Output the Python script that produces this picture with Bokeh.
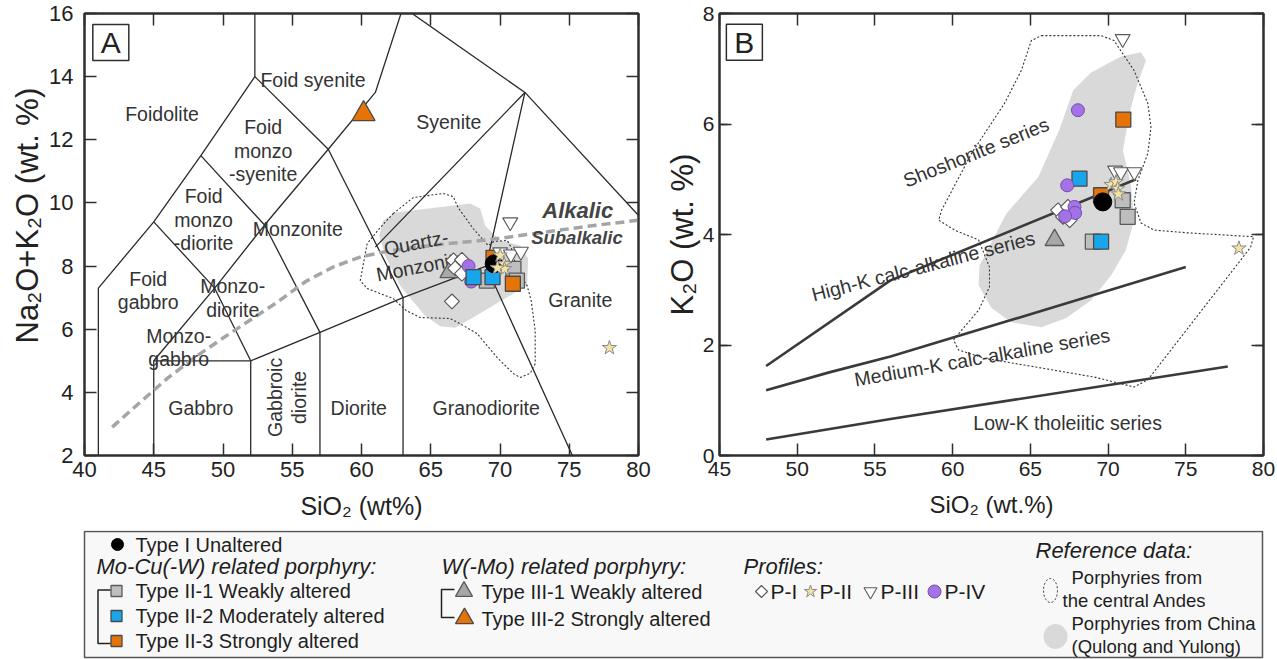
import numpy as np
from bokeh.plotting import figure
from bokeh.models import (Range1d, LinearAxis, SingleIntervalTicker,
                          CustomJSTickFormatter, Title)
from bokeh.layouts import column, row
from bokeh.embed import file_html
from bokeh.resources import INLINE
from bokeh.core.properties import value

FONT = "Liberation Sans"
INK = "#2e2e2e"
TXT = "#333333"

# ---------------------------------------------------------------------------
# Panel A: total alkali vs. silica (plutonic TAS, Middlemost 1994)
# ---------------------------------------------------------------------------
tas_vertices = {
    "F0": (41.0, 0.0), "F1": (41.0, 7.3), "F2": (45.0, 9.4), "F3": (48.4, 11.5),
    "F4": (52.3, 14.0), "F5": (52.3, 17.0),
    "G0": (45.0, 0.0), "G1": (45.0, 5.0), "G2": (52.0, 0.0), "G3": (52.0, 5.0),
    "M1": (49.4, 7.3), "M2": (53.0, 9.3), "M3": (57.6, 11.7),
    "D0": (57.0, 0.0), "D1": (57.0, 5.9),
    "Q0": (63.0, 0.0), "Q1": (63.0, 7.0), "Q2": (69.0, 8.0), "Q3": (61.0, 8.6),
    "S1": (61.0, 13.5), "S2": (63.0, 16.2), "S3": (71.8, 13.5), "S4": (85.9, 6.8),
    "R0": (77.3, 0.0),
}
tas_boundaries = [
    ["F0", "F1", "F2", "F3", "F4", "F5"],
    ["F2", "M1", "G3"],
    ["F3", "M2", "D1"],
    ["F4", "M3", "Q1", "Q0"],
    ["G0", "G1", "M1", "M2", "M3", "S1", "S2"],
    ["G1", "G3", "D1", "Q1", "Q2", "R0"],
    ["G2", "G3"],
    ["D0", "D1"],
    ["Q2", "S3", "S4"],
    ["S2", "S3", "Q3"],
]

field_names = ["Foidolite", "Foid syenite", "Syenite", "Foid\nmonzo\n-syenite",
               "Foid\nmonzo\n-diorite", "Monzonite", "Foid\ngabbro",
               "Monzo-\ndiorite", "Monzo-\ngabbro", "Granite", "Gabbro",
               "Diorite", "Granodiorite"]
field_sio2 = [45.6, 56.5, 66.3, 52.9, 48.6, 55.4, 44.6, 50.7, 46.8, 75.8, 48.4, 59.8, 69.0]
field_alk = [12.83, 13.88, 12.55, 11.66, 9.47, 9.19, 7.23, 7.0, 5.42, 6.91, 3.49, 3.49, 3.49]

# Irvine & Baragar alkalic / subalkalic divide
divide_sio2 = [42, 44, 46, 48, 50, 52, 54, 56, 58, 60, 62, 64, 66, 68, 70, 72, 74, 76, 78, 80]
divide_alk = [2.9, 3.68, 4.45, 5.12, 5.72, 6.3, 6.88, 7.52, 7.98, 8.3, 8.48, 8.6,
              8.7, 8.78, 8.88, 9.0, 9.12, 9.24, 9.35, 9.45]

# Reference fields in TAS space
andes_tas_sio2 = [62.29, 63.73, 65.90, 66.62, 66.98, 68.06, 69.15, 69.58, 70.52, 70.81,
                  71.24, 71.96, 72.25, 72.54, 72.54, 72.18, 71.46, 70.95, 69.80, 68.35,
                  67.34, 66.40, 64.24, 63.23, 62.29, 60.41, 59.91, 60.41, 61.35]
andes_tas_alk = [9.66, 10.17, 10.30, 10.20, 9.85, 9.19, 8.65, 8.78, 8.81, 8.59,
                 7.86, 7.38, 6.91, 5.96, 4.91, 4.60, 4.47, 4.60, 5.10, 5.86,
                 6.12, 6.34, 6.37, 6.59, 6.97, 7.29, 7.54, 8.71, 9.22]
china_tas_sio2 = [61.57, 62.43, 67.85, 68.57, 68.93, 70.01, 71.46, 72.03, 71.96, 71.09,
                  69.87, 68.06, 66.76, 65.68, 64.59, 62.79, 61.71, 61.28]
china_tas_alk = [9.44, 9.70, 9.98, 9.82, 9.28, 8.81, 8.65, 8.24, 7.38, 7.16,
                 6.85, 6.37, 6.05, 6.09, 6.43, 7.38, 8.33, 8.97]

# Samples in TAS space (SiO2, Na2O+K2O)
a_type1_sio2, a_type1_alk = [69.58], [8.07]
a_type21_sio2, a_type21_alk = [69.05, 70.97, 71.22], [7.54, 7.91, 7.54]
a_type22_sio2, a_type22_alk = [68.09, 69.46], [7.65, 7.65]
a_type23_sio2, a_type23_alk = [69.53, 70.93], [8.26, 7.44]
a_type31_sio2, a_type31_alk = [66.35], [7.81]
a_type32_sio2, a_type32_alk = [60.15], [12.82]
a_p1_sio2, a_p1_alk = [66.64, 67.25, 66.76, 67.25, 66.53], [8.18, 8.20, 7.93, 7.76, 6.88]
a_p2_sio2, a_p2_alk = [70.01, 70.30, 70.32, 69.82, 77.9], [8.34, 8.07, 7.91, 7.94, 5.41]
a_p3_sio2, a_p3_alk = [70.74, 70.01, 70.79, 71.51], [9.39, 8.44, 8.37, 8.46]
a_p4_sio2, a_p4_alk = [67.73, 67.92], [8.0, 7.51]

# ---------------------------------------------------------------------------
# Panel B: K2O vs. SiO2 (Peccerillo & Taylor series)
# ---------------------------------------------------------------------------
sho_line_sio2, sho_line_k2o = [48.0, 56.0, 71.8], [1.62, 3.17, 5.0]
hk_line_sio2, hk_line_k2o = [48.0, 52.0, 56.0, 75.0], [1.18, 1.5, 1.79, 3.41]
mk_line_sio2, mk_line_k2o = [48.0, 56.0, 77.7], [0.29, 0.66, 1.61]

series_names = ["Shoshonite series", "High-K calc-alkaline series",
                "Medium-K calc-alkaline series", "Low-K tholeiitic series"]
series_sio2 = [61.5, 58.1, 61.9, 67.4]
series_k2o = [5.49, 3.43, 1.78, 0.59]
series_angle_deg = [22, 14.5, 10, 0]

andes_k_sio2 = [65.71, 69.55, 70.38, 71.67, 72.56, 72.76, 72.56, 71.92, 71.67, 72.12,
                72.95, 75.13, 79.36, 79.17, 72.56, 71.67, 69.10, 62.05, 60.38, 60.06,
                60.58, 61.67, 62.37, 62.37, 61.67, 60.13, 59.10, 59.29, 61.22, 63.33,
                64.42, 65.06]
andes_k_k2o = [7.60, 7.60, 7.51, 6.97, 6.37, 5.94, 5.47, 4.98, 4.57, 4.21,
               4.08, 4.03, 3.96, 3.77, 1.37, 1.24, 1.42, 1.76, 1.91, 2.09,
               2.27, 2.63, 3.05, 3.41, 3.90, 4.08, 4.26, 4.44, 5.47, 6.37,
               6.97, 7.51]
china_k_sio2 = [72.12, 72.44, 71.86, 71.35, 70.96, 71.47, 71.67, 71.15, 70.19, 68.91,
                67.31, 65.71, 63.78, 62.50, 61.67, 61.73, 62.50, 63.46, 65.51, 66.86,
                67.76, 68.91, 70.83]
china_k_k2o = [7.30, 7.15, 6.70, 6.16, 5.52, 4.89, 4.26, 3.72, 3.26, 2.81,
               2.49, 2.32, 2.41, 2.67, 3.08, 3.44, 3.86, 4.38, 5.04, 5.89,
               6.61, 6.93, 7.22]

b_type1_sio2, b_type1_k2o = [69.66], [4.59]
b_type21_sio2, b_type21_k2o = [69.02, 70.94, 71.26], [3.87, 4.62, 4.32]
b_type22_sio2, b_type22_k2o = [68.16, 69.55], [5.01, 3.87]
b_type23_sio2, b_type23_k2o = [70.98, 69.55], [6.08, 4.71]
b_type31_sio2, b_type31_k2o = [66.56], [3.90]
b_p1_sio2, b_p1_k2o = [66.78, 67.1, 67.53, 67.42], [4.44, 4.32, 4.26, 4.50]
b_p2_sio2, b_p2_k2o = [70.19, 70.51, 70.62, 70.66, 78.42], [4.90, 4.95, 4.83, 4.73, 3.75]
b_p3_sio2, b_p3_k2o = [70.94, 70.45, 70.83, 71.69], [7.54, 5.16, 5.13, 5.13]
b_p4_sio2, b_p4_k2o = [68.06, 67.37, 67.84, 67.88, 67.24], [6.25, 4.89, 4.50, 4.39, 4.33]

# ---------------------------------------------------------------------------
# Symbol styles
# ---------------------------------------------------------------------------
ORANGE = "#e67308"
BLUE = "#17a6ec"
GREY_SQ = "#bebebe"
GREY_TRI = "#a8a8a8"
PURPLE = "#a472e6"
STAR = "#f5e3a3"
STY = {
    "t1": dict(marker="circle", fill_color="black", line_color="black"),
    "t21": dict(marker="square", fill_color=GREY_SQ, line_color="#5a5a5a", line_width=1.3),
    "t22": dict(marker="square", fill_color=BLUE, line_color="#4a4a4a", line_width=1.3),
    "t23": dict(marker="square", fill_color=ORANGE, line_color="#4a4a4a", line_width=1.3),
    "t31": dict(marker="triangle", fill_color=GREY_TRI, line_color="#5a5a5a", line_width=1.3),
    "t32": dict(marker="triangle", fill_color=ORANGE, line_color="#4a4a4a", line_width=1.3),
    "p1": dict(marker="square", angle=np.pi / 4, fill_color="white", line_color="#555555", line_width=1.1),
    "p2": dict(marker="star", fill_color=STAR, line_color="#8a8a8a", line_width=1.0),
    "p3": dict(marker="inverted_triangle", fill_color="white", line_color="#5a5a5a", line_width=1.1),
    "p4": dict(marker="circle", fill_color=PURPLE, line_color="#6f50a8", line_width=1.0),
}
SIZE = {"t1": 18, "t21": 15, "t22": 15, "t23": 15, "t31": 19, "t32": 23,
        "p1": 10.5, "p2": 15, "p3": 15, "p4": 13}

FIG_H = 530


def blank_axis(ticker):
    ax = LinearAxis(ticker=ticker, formatter=CustomJSTickFormatter(code="return ''"))
    ax.major_label_text_font_size = "0px"
    ax.major_label_standoff = 0
    return ax


def style_axis(ax):
    ax.axis_line_color = INK
    ax.axis_line_width = 2
    ax.major_tick_line_color = INK
    ax.major_tick_line_width = 1.5
    ax.major_tick_in = 12
    ax.major_tick_out = 0
    ax.minor_tick_line_color = INK
    ax.minor_tick_line_width = 1.5
    ax.minor_tick_in = 8
    ax.minor_tick_out = 0
    ax.major_label_text_font = FONT
    ax.major_label_text_color = "#222222"
    ax.axis_label_text_font = FONT
    ax.axis_label_text_font_style = "normal"
    ax.axis_label_text_color = "#222222"


def make_panel(width, x_rng, y_rng, border_left, border_right, xt, yt, x_label, y_label,
               tick_size, label_size, ytick_standoff, y_align, y_offset, y_standoff):
    p = figure(width=width, height=FIG_H, x_range=Range1d(*x_rng), y_range=Range1d(*y_rng),
               min_border_left=border_left, min_border_right=border_right,
               min_border_top=13, min_border_bottom=FIG_H - 13 - 442, toolbar_location=None,
               output_backend="svg", x_axis_type=None, y_axis_type=None)
    p.grid.visible = False
    p.outline_line_color = INK
    p.outline_line_width = 2
    p.background_fill_color = "white"
    p.border_fill_color = "white"

    xb = LinearAxis(ticker=SingleIntervalTicker(interval=xt[0], num_minor_ticks=xt[1]),
                    axis_label=x_label)
    yl = LinearAxis(ticker=SingleIntervalTicker(interval=yt[0], num_minor_ticks=yt[1]))
    xa = blank_axis(SingleIntervalTicker(interval=xt[0], num_minor_ticks=xt[1]))
    yr = blank_axis(SingleIntervalTicker(interval=yt[0], num_minor_ticks=yt[1]))
    for ax in (xb, yl, xa, yr):
        style_axis(ax)
    for ax in (xb, yl):
        ax.major_label_text_font_size = tick_size
    xb.axis_label_text_font_size = label_size
    xb.major_label_standoff = 6
    xb.axis_label_standoff = 12
    yl.major_label_standoff = ytick_standoff
    p.add_layout(xb, "below")
    p.add_layout(yl, "left")
    p.add_layout(xa, "above")
    p.add_layout(yr, "right")
    # vertical axis title, placed outside the tick labels
    p.add_layout(Title(text=y_label, align=y_align, offset=y_offset, standoff=y_standoff,
                       text_font=FONT, text_font_size="31px", text_font_style="normal",
                       text_color="#222222"), "left")
    return p


def panel_tag(p, x, y, letter):
    p.rect(x=[x], y=[y], width=36, height=36, width_units="screen", height_units="screen",
           fill_color="white", line_color=INK, line_width=1.5)
    p.text(x=[x], y=[y], text=[letter], text_align="center", text_baseline="middle",
           text_font=value(FONT), text_font_size="30px", text_color="#222222")


def plot_samples(p, groups):
    for key, xs, ys in groups:
        if xs:
            p.scatter(xs, ys, size=SIZE[key], **STY[key])


# ---------------- Panel A ----------------
pA = make_panel(662, (40, 80), (2, 16), 84, 24, (5, 0), (2, 0),
                "SiO\u2082 (wt%)", "Na\u2082O+K\u2082O (wt. %)", "22px", "25px", 11,
                "left", 112, 4)

pA.patch(china_tas_sio2, china_tas_alk, fill_color="#d9d9d9", line_color=None)
pA.patch(andes_tas_sio2, andes_tas_alk, fill_color=None, line_color="#333333",
         line_width=1.1, line_dash="2 2")

xs_b = [[tas_vertices[v][0] for v in line] for line in tas_boundaries]
ys_b = [[tas_vertices[v][1] for v in line] for line in tas_boundaries]
pA.multi_line(xs_b, ys_b, line_color="#2a2a2a", line_width=1.3)

pA.line(divide_sio2, divide_alk, line_color="#a5a5a5", line_width=3.5, line_dash="9 5")

pA.text(field_sio2, field_alk, text=field_names, text_align="center", text_baseline="middle",
        text_font=value(FONT), text_font_size="19.5px", text_color=TXT, text_line_height=1.08)
pA.text([64.1], [8.37], text=["Quartz-\nMonzonite"], angle=np.deg2rad(11),
        text_align="center", text_baseline="middle", text_font=value(FONT),
        text_font_size="19.5px", text_color=TXT, text_line_height=1.08)
pA.text([54.6], [3.84], text=["Gabbroic\ndiorite"], angle=np.pi / 2,
        text_align="center", text_baseline="middle", text_font=value(FONT),
        text_font_size="19.5px", text_color=TXT, text_line_height=1.08)
pA.text([73.05], [9.76], text=["Alkalic"], text_align="left", text_baseline="middle",
        text_font=value(FONT), text_font_size="22px", text_font_style="bold italic",
        text_color="#444444")
pA.text([72.25], [8.92], text=["Subalkalic"], text_align="left", text_baseline="middle",
        text_font=value(FONT), text_font_size="18.5px", text_font_style="bold italic",
        text_color="#444444")

plot_samples(pA, [
    ("t31", a_type31_sio2, a_type31_alk),
    ("t21", a_type21_sio2, a_type21_alk),
    ("t23", a_type23_sio2, a_type23_alk),
    ("p1", a_p1_sio2, a_p1_alk),
    ("p4", a_p4_sio2, a_p4_alk),
    ("t22", a_type22_sio2, a_type22_alk),
    ("t1", a_type1_sio2, a_type1_alk),
    ("t32", a_type32_sio2, a_type32_alk),
    ("p3", a_p3_sio2, a_p3_alk),
    ("p2", a_p2_sio2, a_p2_alk),
])
panel_tag(pA, 41.9, 15.08, "A")

# ---------------- Panel B ----------------
pB = make_panel(615, (45, 80), (0, 8), 55, 14, (5, 0), (2, 1),
                "SiO\u2082 (wt.%)", "K\u2082O (wt. %)", "21px", "24px", 5,
                "center", 0, 0)

pB.patch(china_k_sio2, china_k_k2o, fill_color="#d9d9d9", line_color=None)
pB.patch(andes_k_sio2, andes_k_k2o, fill_color=None, line_color="#333333",
         line_width=1.1, line_dash="2 2")
for xs, ys in ((sho_line_sio2, sho_line_k2o), (hk_line_sio2, hk_line_k2o),
               (mk_line_sio2, mk_line_k2o)):
    pB.line(xs, ys, line_color="#3a3a3a", line_width=2.6)

for name, sx, sy, ang in zip(series_names, series_sio2, series_k2o, series_angle_deg):
    pB.text([sx], [sy], text=[name], angle=np.deg2rad(ang), text_align="center",
            text_baseline="middle", text_font=value(FONT), text_font_size="19.5px",
            text_color=TXT)

plot_samples(pB, [
    ("t31", b_type31_sio2, b_type31_k2o),
    ("t21", b_type21_sio2, b_type21_k2o),
    ("t23", b_type23_sio2, b_type23_k2o),
    ("t22", b_type22_sio2, b_type22_k2o),
    ("p1", b_p1_sio2, b_p1_k2o),
    ("p4", b_p4_sio2, b_p4_k2o),
    ("t1", b_type1_sio2, b_type1_k2o),
    ("p3", b_p3_sio2, b_p3_k2o),
    ("p2", b_p2_sio2, b_p2_k2o),
])
panel_tag(pB, 46.6, 7.48, "B")

# ---------------- Legend strip (coordinates are page pixels) ----------------
leg = figure(width=1277, height=659 - FIG_H, x_range=Range1d(0, 1277),
             y_range=Range1d(659, FIG_H), min_border=0, toolbar_location=None,
             output_backend="svg", x_axis_type=None, y_axis_type=None)
leg.grid.visible = False
leg.outline_line_color = None
leg.background_fill_color = "white"
leg.border_fill_color = "white"
leg.quad(left=[84], right=[1262], top=[531], bottom=[657], fill_color="#f8f8f8",
         line_color="#555555", line_width=1.5)


def leg_text(x, y, s, size="20px", style="normal"):
    leg.text([x], [y], text=[s], text_align="left", text_baseline="middle",
             text_font=value(FONT), text_font_size=size, text_font_style=style,
             text_color="#1e1e1e")


legend_headings = [(96, 566, "Mo-Cu(-W) related porphyry:"),
                   (441, 566, "W(-Mo) related porphyry:"),
                   (743, 566, "Profiles:"),
                   (1035, 550, "Reference data:")]
for hx, hy, ht in legend_headings:
    leg_text(hx, hy, ht, "22px", "italic")

legend_items = [
    ("t1", 117, 544, 12, 135, "Type I Unaltered", "20px"),
    ("t21", 116, 590.5, 11, 135, "Type II-1 Weakly altered", "20px"),
    ("t22", 116, 615.5, 11, 135, "Type II-2 Moderately altered", "20px"),
    ("t23", 116, 640.5, 11, 135, "Type II-3 Strongly altered", "20px"),
    ("t31", 463.5, 591, 17, 481, "Type III-1 Weakly altered", "20px"),
    ("t32", 464, 618, 18, 481, "Type III-2 Strongly altered", "20px"),
    ("p1", 761, 591, 8.5, 770, "P-I", "21px"),
    ("p2", 810, 591, 13, 819, "P-II", "21px"),
    ("p3", 870, 591, 13, 880, "P-III", "21px"),
    ("p4", 934, 591, 13, 944, "P-IV", "21px"),
]
for key, mx, my, ms, tx, label, fs in legend_items:
    leg.scatter([mx], [my], size=ms, **STY[key])
    leg_text(tx, my, label, fs)

# bracket lines grouping the altered types
leg.line([110, 97.5, 97.5, 110], [589.5, 589.5, 643, 643], line_color="#222222", line_width=1.5)
leg.line([454, 441, 441, 454], [589, 589, 617, 617], line_color="#222222", line_width=1.5)

leg.ellipse(x=[1050], y=[590], width=14, height=24, fill_color=None, line_color="#333333",
            line_width=1, line_dash="2 2")
leg.ellipse(x=[1055], y=[636], width=24, height=25, fill_color="#d9d9d9", line_color=None)
leg_text(1071, 577, "Porphyries from", "18.5px")
leg_text(1062, 599.5, "the central Andes", "18.5px")
leg_text(1071, 623, "Porphyries from China", "18.5px")
leg_text(1071, 646, "(Qulong and Yulong)", "18.5px")

layout = column(row(pA, pB), leg)
open("out.html", "w").write(file_html(layout, INLINE, "Porphyry geochemistry"))
